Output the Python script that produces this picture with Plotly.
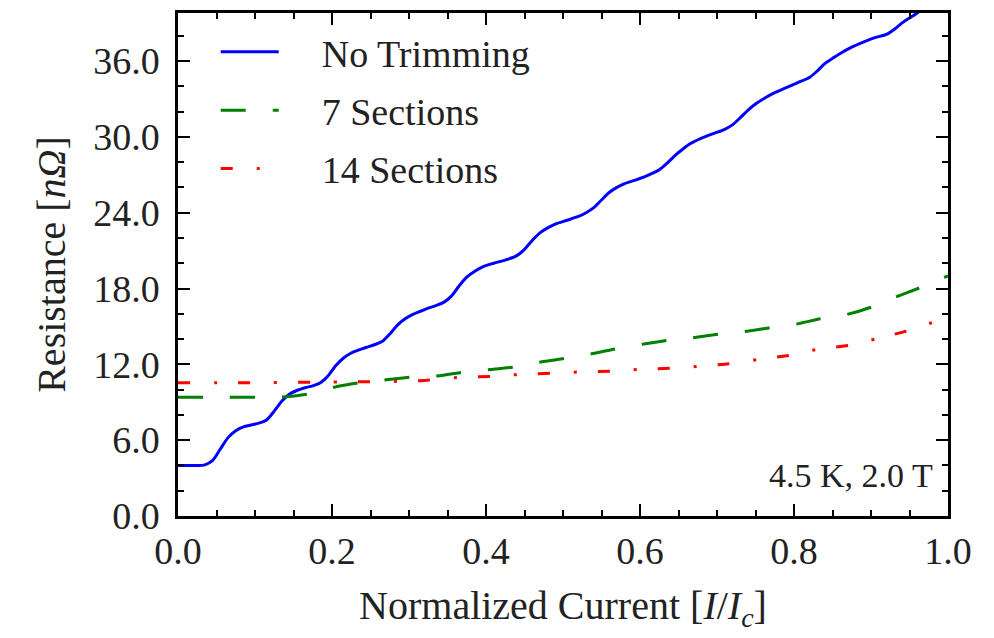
import plotly.graph_objects as go

# Data
x_blue = [0.0, 0.02, 0.035, 0.045, 0.055, 0.065, 0.075, 0.085, 0.095, 0.105, 0.115, 0.125, 0.135,
          0.145, 0.155, 0.165, 0.175, 0.185, 0.195, 0.205, 0.215, 0.225, 0.235, 0.245, 0.255,
          0.265, 0.275, 0.285, 0.295, 0.305, 0.315, 0.325, 0.335, 0.345, 0.355, 0.365, 0.375,
          0.385, 0.395, 0.41, 0.425, 0.44, 0.45, 0.46, 0.47, 0.48, 0.49, 0.505, 0.52, 0.53,
          0.54, 0.55, 0.56, 0.57, 0.58, 0.595, 0.61, 0.625, 0.635, 0.645, 0.655, 0.665, 0.68,
          0.695, 0.71, 0.72, 0.73, 0.74, 0.75, 0.76, 0.775, 0.79, 0.805, 0.82, 0.83, 0.84,
          0.85, 0.86, 0.875, 0.89, 0.905, 0.92, 0.93, 0.94, 0.95, 0.96, 0.97]
y_blue = [4.0, 4.0, 4.05, 4.4, 5.3, 6.2, 6.75, 7.05, 7.2, 7.35, 7.6, 8.3, 9.1,
          9.65, 9.95, 10.15, 10.3, 10.55, 11.1, 11.9, 12.5, 12.9, 13.15, 13.35, 13.55,
          13.8, 14.4, 15.1, 15.6, 15.95, 16.2, 16.45, 16.65, 16.9, 17.4, 18.2, 18.9,
          19.35, 19.7, 20.0, 20.25, 20.6, 21.1, 21.8, 22.4, 22.8, 23.1, 23.4, 23.7, 24.0,
          24.4, 25.0, 25.6, 26.0, 26.3, 26.6, 26.95, 27.4, 27.9, 28.5, 29.0, 29.45, 29.9,
          30.25, 30.6, 30.95, 31.5, 32.1, 32.6, 33.0, 33.5, 33.9, 34.3, 34.7, 35.2, 35.8,
          36.2, 36.6, 37.1, 37.5, 37.85, 38.1, 38.5, 39.0, 39.4, 39.8, 40.3]

x_green = [0, 0.05, 0.1, 0.13, 0.143, 0.174, 0.208, 0.239, 0.273, 0.305, 0.34, 0.373, 0.408, 0.438,
           0.473, 0.505, 0.539, 0.57, 0.604, 0.635, 0.669, 0.704, 0.736, 0.769, 0.804, 0.834, 0.869,
           0.899, 0.931, 0.961, 1.0]
y_green = [9.4, 9.4, 9.4, 9.4, 9.45, 9.7, 10.26, 10.58, 10.8, 11.0, 11.1, 11.4, 11.6, 11.8,
           12.2, 12.5, 12.85, 13.25, 13.6, 13.9, 14.1, 14.4, 14.6, 14.9, 15.2, 15.6, 15.95,
           16.5, 17.3, 18.0, 19.0]

x_red = [0, 0.1, 0.2, 0.28, 0.32, 0.366, 0.407, 0.444, 0.485, 0.522, 0.562, 0.6, 0.64, 0.678,
         0.715, 0.755, 0.793, 0.831, 0.871, 0.909, 0.947, 0.984, 1.0]
y_red = [10.55, 10.55, 10.6, 10.65, 10.73, 10.97, 11.05, 11.2, 11.3, 11.4, 11.45, 11.6, 11.7, 11.85,
         12.05, 12.4, 12.7, 13.2, 13.5, 14.05, 14.65, 15.4, 15.7]

names = ["No Trimming", "7 Sections", "14 Sections"]
y_ticks = [0, 6, 12, 18, 24, 30, 36]
x_ticks = [0, 0.2, 0.4, 0.6, 0.8, 1.0]

FONT = "Liberation Serif"
PAD = "\u00a0" * 4

fig = go.Figure()
fig.add_trace(go.Scatter(x=x_blue, y=y_blue, mode="lines", name=PAD + names[0], legendgroup="a",
                         line=dict(color="#0000ff", width=3, shape="spline", smoothing=0.8)))
fig.add_trace(go.Scatter(x=x_green, y=y_green, mode="lines", name=PAD + names[1], legendgroup="b",
                         line=dict(color="#008000", width=3, dash="25px,27px", shape="spline", smoothing=0.5)))
fig.add_trace(go.Scatter(x=x_red, y=y_red, mode="lines", name=PAD + names[2], legendgroup="c",
                         line=dict(color="#ff0000", width=3, dash="12px,24px,3px,21px", shape="spline", smoothing=0.5)))

axis_common = dict(
    showline=True, linecolor="black", linewidth=2.5, mirror="allticks",
    ticks="inside", ticklen=12, tickwidth=1.5, tickcolor="black",
    showgrid=False, zeroline=False,
    tickfont=dict(family=FONT, size=38, color="#222"),
    title_font=dict(family=FONT, size=40, color="#222"),
)

fig.update_xaxes(range=[0, 1], tickvals=x_ticks, tickformat=".1f",
                 minor=dict(dtick=0.05, ticks="inside", ticklen=6, tickwidth=1.5, tickcolor="black", showgrid=False),
                 title_text="Normalized Current [<i>I</i>/<i>I<sub>c</sub></i>]", title_standoff=20,
                 **axis_common)
fig.update_yaxes(range=[0, 39.8], tickvals=y_ticks, tickformat=".1f", ticklabelstandoff=8,
                 minor=dict(dtick=2, ticks="inside", ticklen=6, tickwidth=1.5, tickcolor="black", showgrid=False),
                 title_text="Resistance [<i>nΩ</i>]", title_standoff=16,
                 **axis_common)

fig.add_annotation(x=0.983, y=0.04, xref="paper", yref="paper", xanchor="right", yanchor="bottom",
                   text="4.5 K, 2.0 T", showarrow=False, font=dict(family=FONT, size=34, color="#222"))

fig.update_layout(
    width=994, height=638,
    margin=dict(l=178, r=46, t=10, b=122),
    plot_bgcolor="white", paper_bgcolor="white",
    legend=dict(x=0.049, y=0.985, xanchor="left", yanchor="top", bgcolor="rgba(0,0,0,0)",
                font=dict(family=FONT, size=38, color="#222"), itemwidth=58,
                traceorder="grouped", tracegroupgap=6),
)

fig.write_html("out.html")
